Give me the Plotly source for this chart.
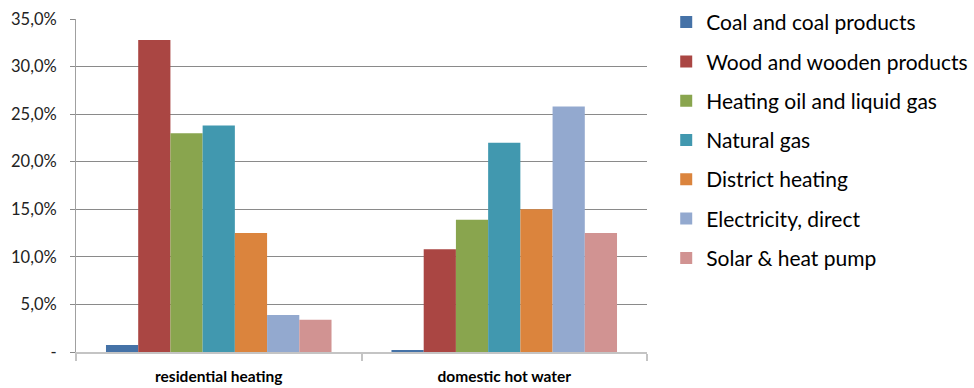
import plotly.graph_objects as go

categories = ["residential heating", "domestic hot water"]
series_names = [
    "Coal and coal products",
    "Wood and wooden products",
    "Heating oil and liquid gas",
    "Natural gas",
    "District heating",
    "Electricity, direct",
    "Solar & heat pump",
]
series_values = [
    [0.74, 0.2],
    [32.8, 10.8],
    [23.0, 13.9],
    [23.8, 22.0],
    [12.5, 15.0],
    [3.9, 25.8],
    [3.4, 12.5],
]
series_colors = ["#4572A7", "#AA4643", "#89A54E", "#4198AF", "#DB843D", "#93A9CF", "#D19392"]

y_tick_values = [0, 5, 10, 15, 20, 25, 30, 35]
y_tick_labels = ["-", "5,0%", "10,0%", "15,0%", "20,0%", "25,0%", "30,0%", "35,0%"]

FONT = "Lato"

fig = go.Figure()
for i, (name, vals, col) in enumerate(zip(series_names, series_values, series_colors)):
    fig.add_trace(go.Bar(
        x=categories, y=vals, name=name, legendgroup=f"g{i}",
        marker=dict(color=col, line=dict(width=0)),
    ))

fig.update_layout(
    width=974, height=388,
    margin=dict(l=76, r=327, t=19, b=36),
    paper_bgcolor="white", plot_bgcolor="white",
    barmode="group", bargap=0.21, bargroupgap=0,
    font=dict(family=FONT, color="#000000"),
    showlegend=True,
    legend=dict(
        xref="container", yref="container",
        x=0.684, xanchor="left", y=0.995, yanchor="top",
        font=dict(family=FONT, size=21, color="#000000"),
        tracegroupgap=9, itemwidth=30, maxheight=1.0,
        bgcolor="rgba(0,0,0,0)",
    ),
    xaxis=dict(
        type="category", automargin=False,
        showline=True, linecolor="#c4c4c4", linewidth=2,
        ticks="outside", tickson="boundaries", ticklen=7, tickwidth=2, tickcolor="#c4c4c4",
        tickfont=dict(family=FONT, size=15.5, color="#000000", weight="bold"),
        ticklabelstandoff=9,
        showgrid=False,
    ),
    yaxis=dict(
        range=[0, 35], automargin=False,
        tickvals=y_tick_values, ticktext=y_tick_labels,
        showline=True, linecolor="#a0a0a0", linewidth=1,
        ticks="outside", ticklen=5, tickcolor="#8a8a8a",
        ticklabelstandoff=10,
        showgrid=True, gridcolor="#8a8a8a", gridwidth=1,
        zeroline=False,
        tickfont=dict(family=FONT, size=16.5, color="#222222"),
    ),
)

fig.write_html("out.html")
